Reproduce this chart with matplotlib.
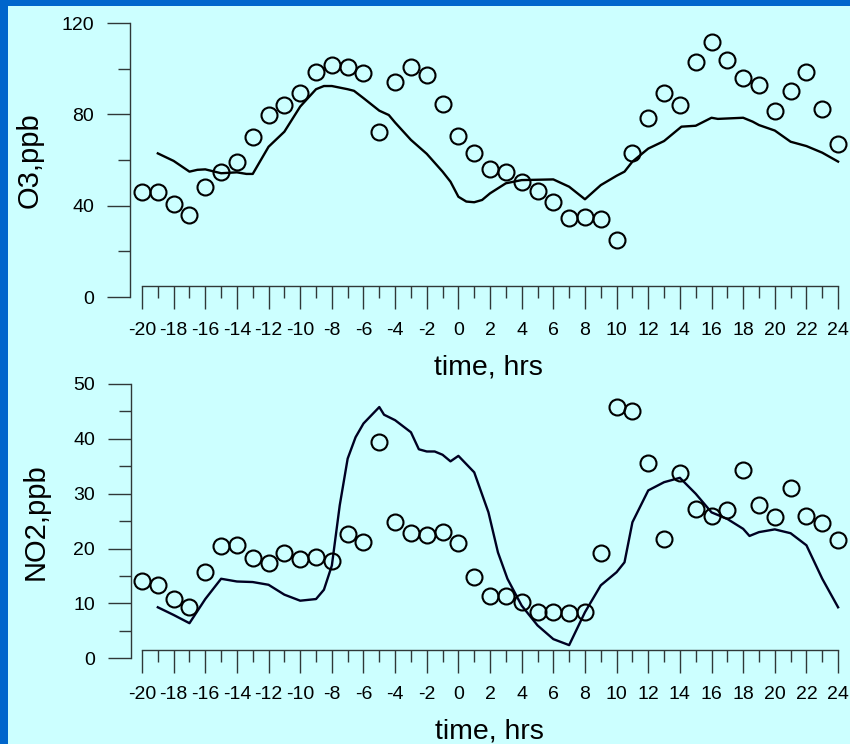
import matplotlib
matplotlib.use("Agg")
import matplotlib.pyplot as plt
from matplotlib.patches import Rectangle
from matplotlib.ticker import MultipleLocator

plt.rcParams['font.family'] = ['Liberation Sans', 'DejaVu Sans']

# ---------------- data ----------------
obs_hours = list(range(-20, 25))

o3_obs = [46.1, 45.8, 40.6, 35.8, 48.3, 54.6, 59.1, 70.2, 79.7, 84.1,
          89.5, 98.7, 101.6, 100.9, 98.0, 72.4, 94.0, 100.6, 97.2, 84.4,
          70.5, 62.9, 56.1, 54.9, 50.5, 46.4, 41.8, 34.5, 35.2, 34.2,
          25.0, 63.2, 78.3, 89.5, 84.1, 103.1, 111.8, 103.8, 95.8, 92.9,
          81.5, 90.4, 98.4, 82.2, 66.9]

o3_model_t = [-19, -18, -17, -16.5, -16, -15, -14, -13.4, -13, -12, -11, -10,
              -9, -8.5, -8, -7, -6.6, -6, -5, -4.4, -4, -3, -2, -1, -0.5,
              0, 0.5, 1, 1.5, 2, 3, 4, 6, 7, 8, 9, 10, 10.5, 11, 12, 13,
              14.1, 15, 16, 16.4, 18, 18.6, 19, 20, 21, 22, 23, 24]
o3_model = [62.9, 59.6, 54.9, 55.7, 55.9, 54.2, 54.6, 53.9, 53.9, 65.8, 72.4, 83.4,
            91.0, 92.4, 92.4, 91.0, 90.3, 87.1, 81.6, 79.7, 76.4, 68.8, 62.7, 54.9, 50.5,
            43.9, 41.8, 41.5, 42.5, 45.4, 49.8, 51.2, 51.5, 48.3, 42.8, 49.0, 53.1, 54.9,
            59.3, 65.0, 68.3, 74.6, 75.0, 78.5, 78.0, 78.5, 76.8, 75.3, 72.9, 68.0, 66.1,
            63.2, 59.3]

no2_obs = [14.0, 13.4, 10.8, 9.3, 15.7, 20.4, 20.7, 18.3, 17.4, 19.2,
           18.1, 18.4, 17.7, 22.6, 21.2, 39.4, 24.8, 22.9, 22.4, 23.1,
           21.0, 14.8, 11.4, 11.3, 10.2, 8.4, 8.4, 8.3, 8.4, 19.2,
           45.8, 45.1, 35.6, 21.7, 33.8, 27.3, 25.9, 27.1, 34.4, 27.9,
           25.7, 31.0, 26.0, 24.6, 21.5]

no2_model_t = [-19, -18, -17, -16, -15, -14, -13, -12, -11, -10, -9, -8.5,
               -8, -7.5, -7, -6.5, -6, -5.5, -5, -4.7, -4, -3, -2.5, -2,
               -1.5, -1, -0.5, 0, 1, 1.9, 2.5, 3.1, 4, 5, 6, 7, 8, 9, 10,
               10.5, 11, 12, 13, 14, 15, 16, 17, 18, 18.4, 19, 20, 21, 22, 23, 24]
no2_model = [9.3, 7.9, 6.4, 10.8, 14.5, 14.0, 13.9, 13.4, 11.6, 10.5, 10.8, 12.5,
             16.9, 27.9, 36.4, 40.3, 42.8, 44.3, 45.8, 44.4, 43.4, 41.2, 38.1, 37.7,
             37.7, 37.1, 35.9, 36.9, 33.9, 26.6, 19.3, 14.5, 9.6, 6.0, 3.5, 2.4, 8.4,
             13.3, 15.7, 17.5, 24.8, 30.6, 32.1, 32.9, 30.0, 26.6, 25.4, 23.6, 22.3,
             23.0, 23.5, 22.8, 20.6, 14.5, 9.3]

x_ticks = list(range(-20, 25, 2))

# ---------------- figure ----------------
W, H = 850, 744
fig = plt.figure(figsize=(W / 100, H / 100), dpi=100, facecolor='#0066CC')
fig.patches.append(Rectangle((8 / W, 0), 1 - 8 / W, 1 - 6 / H,
                             transform=fig.transFigure, facecolor='#CCFFFF',
                             edgecolor='none', zorder=-10))

px_per_hr = 15.82
spine_col = '#303838'


def setup(ax, xleft_px_off, ymax, ymaj, ymin, xaxis_pos, label):
    ax.set_facecolor('none')
    ax.set_zorder(5)
    xl = -20 - xleft_px_off / px_per_hr
    ax.set_xlim(xl, 24.6)
    ax.set_ylim(0, ymax)
    for s in ['top', 'right']:
        ax.spines[s].set_visible(False)
    ax.spines['left'].set_bounds(0, ymax)
    ax.spines['bottom'].set_bounds(-20, 24)
    ax.spines['bottom'].set_position(('data', xaxis_pos))
    for s in ['left', 'bottom']:
        ax.spines[s].set_color(spine_col)
        ax.spines[s].set_linewidth(1.0)
    ax.xaxis.set_major_locator(MultipleLocator(2))
    ax.xaxis.set_minor_locator(MultipleLocator(1))
    ax.set_xticks(x_ticks)
    ax.set_xticklabels([str(v) for v in x_ticks])
    ax.yaxis.set_major_locator(MultipleLocator(ymaj))
    ax.yaxis.set_minor_locator(MultipleLocator(ymin))
    ax.tick_params(axis='both', which='major', direction='out', length=16.5,
                   width=1.0, color=spine_col, labelsize=14, labelcolor='black')
    ax.tick_params(axis='both', which='minor', direction='out', length=8.3,
                   width=1.0, color=spine_col)
    ax.tick_params(axis='x', which='major', pad=9.5)
    ax.tick_params(axis='y', which='major', pad=9.5)
    ax.set_xlabel('time, hrs', fontsize=20.5, labelpad=11)
    ax.set_ylabel(label, fontsize=21)


# top panel: O3
ax1 = fig.add_axes([130 / W, (H - 297) / H, (24.6 + 20 + 12 / px_per_hr) * px_per_hr / W, 274 / H])
setup(ax1, 12, 120, 40, 20, 4.95, 'O3,ppb')
ax1.yaxis.set_label_coords(-0.121, 0.5)
ax1.plot(o3_model_t, o3_model, color='black', lw=1.7, zorder=3, clip_on=False)
ax1.plot(obs_hours, o3_obs, linestyle='none', marker='o', ms=11.5, mew=1.5,
         mfc='none', mec='black', zorder=4, clip_on=False)

# bottom panel: NO2
ax2 = fig.add_axes([131 / W, (H - 658.3) / H, (24.6 + 20 + 11 / px_per_hr) * px_per_hr / W, 274.3 / H])
setup(ax2, 11, 50, 10, 5, 1.51, 'NO2,ppb')
ax2.yaxis.set_label_coords(-0.114, 0.5)
ax2.plot(no2_model_t, no2_model, color='#000022', lw=1.7, zorder=3, clip_on=False)
ax2.plot(obs_hours, no2_obs, linestyle='none', marker='o', ms=11.5, mew=1.5,
         mfc='none', mec='black', zorder=4, clip_on=False)

fig.savefig('out.png', dpi=100, facecolor=fig.get_facecolor())
